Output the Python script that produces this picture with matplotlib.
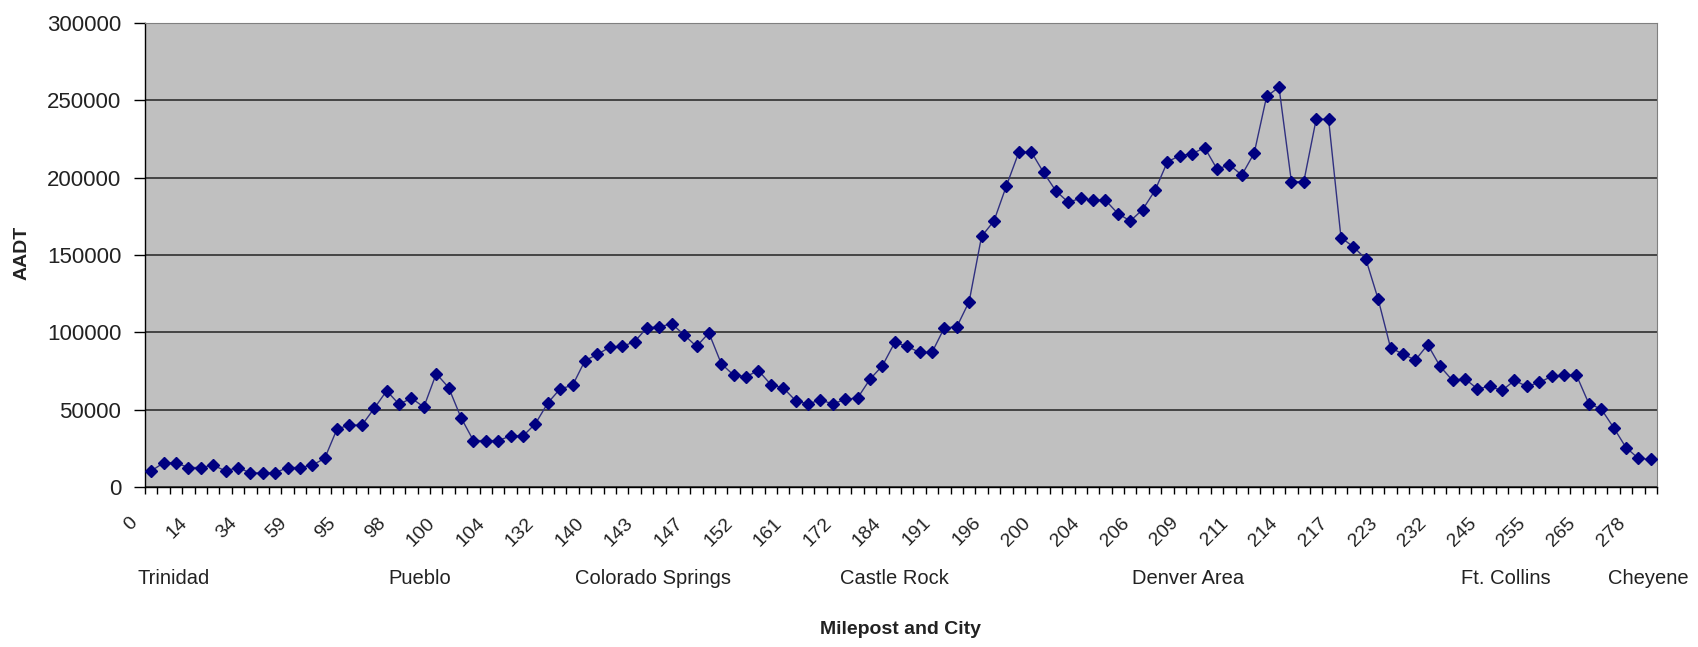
import numpy as np
import matplotlib.pyplot as plt
from matplotlib.transforms import ScaledTranslation, blended_transform_factory

plt.rcParams['font.family'] = ['Liberation Sans', 'DejaVu Sans']

# AADT at each milepost point
aadt = [10400, 15600, 15600, 12600, 12600, 14100, 10400, 12600, 9100, 9100,
        9100, 12600, 12600, 14100, 18500, 37600, 40000, 40000, 50900, 62200,
        53500, 57400, 51700, 73300, 64300, 44800, 30000, 30000, 30000, 33000,
        33000, 40900, 54300, 63500, 65700, 81700, 85700, 90400, 90900, 93900,
        103000, 103500, 105600, 98300, 90900, 99600, 79700, 72300, 71400, 75300,
        66200, 64100, 55800, 53700, 56300, 53700, 56700, 57600, 69700, 78400,
        93500, 90900, 87000, 87000, 103000, 103500, 119900, 162000, 172000, 194600,
        216300, 216800, 203400, 191400, 184100, 186700, 185400, 185400, 176800, 172000,
        179400, 191800, 210300, 214200, 215500, 219400, 205600, 208200, 201700, 215900,
        252500, 258500, 197400, 197400, 237800, 237800, 161300, 155300, 147500, 121500,
        90000, 86000, 82000, 92000, 78000, 68900, 70000, 63500, 65000, 62400,
        68900, 65000, 67600, 71500, 72300, 72300, 53900, 50400, 38400, 25500,
        18500, 17800]

# milepost labels, one every 4th point
mileposts = ['0', '14', '34', '59', '95', '98', '100', '104', '132', '140',
             '143', '147', '152', '161', '172', '184', '191', '196', '200', '204',
             '206', '209', '211', '214', '217', '223', '232', '245', '255', '265', '278']

cities = ['Trinidad', 'Pueblo', 'Colorado Springs', 'Castle Rock',
          'Denver Area', 'Ft. Collins', 'Cheyene']
city_pos = [1.8, 21.7, 40.5, 60.0, 83.7, 109.3, 120.8]

W, H = 1698, 647
fig = plt.figure(figsize=(W / 100, H / 100), dpi=100)
ax = fig.add_axes([145 / W, 1 - 487 / H, (1657 - 145) / W, (487 - 23) / H])

x = np.arange(len(aadt))
ax.set_facecolor('#c0c0c0')
ax.plot(x, aadt, color='#303080', lw=1, marker='D', ms=6,
        mfc='#000080', mec='#000080', zorder=3)

ax.set_xlim(-0.5, len(aadt) - 0.5)
ax.set_ylim(0, 300000)
ax.set_yticks(np.arange(0, 300001, 50000))
ax.yaxis.grid(True, color='#3a3a3a', lw=1.3)
ax.set_axisbelow(True)

# tick marks between categories, labels on every 4th category
ax.set_xticks(np.arange(-0.5, len(aadt), 1))
ax.set_xticklabels([])
ax.set_xticks(x[::4], minor=True)
ax.set_xticklabels(mileposts, minor=True, rotation=45, ha='right', va='center',
                   rotation_mode='anchor', fontsize=14, color='#222222')
ax.tick_params(axis='x', which='minor', length=0, pad=24)
ax.tick_params(axis='x', which='major', length=5, width=1, direction='out')
offset = ScaledTranslation(-16 / 100, 0, fig.dpi_scale_trans)
for lab in ax.get_xticklabels(minor=True):
    lab.set_transform(lab.get_transform() + offset)

ax.tick_params(axis='y', length=8, width=1, pad=9, labelsize=16, labelcolor='#222222')

for s in ['left', 'bottom']:
    ax.spines[s].set_color('black')
    ax.spines[s].set_linewidth(1)
for s in ['top', 'right']:
    ax.spines[s].set_color('#808080')

trans = blended_transform_factory(ax.transData, fig.transFigure)
for name, p in zip(cities, city_pos):
    ax.text(p, 1 - 578 / H, name, transform=trans, ha='center', va='center',
            fontsize=14.5, color='#222222', clip_on=False)

fig.text((145 + 1657) / 2 / W, 1 - 630 / H, 'Milepost and City', ha='center',
         va='center', fontsize=14, fontweight='bold', color='#222222')
fig.text(22 / W, 1 - 253 / H, 'AADT', rotation=90, ha='center', va='center',
         fontsize=14, fontweight='bold', color='#222222')

fig.savefig('out.png', dpi=100)
